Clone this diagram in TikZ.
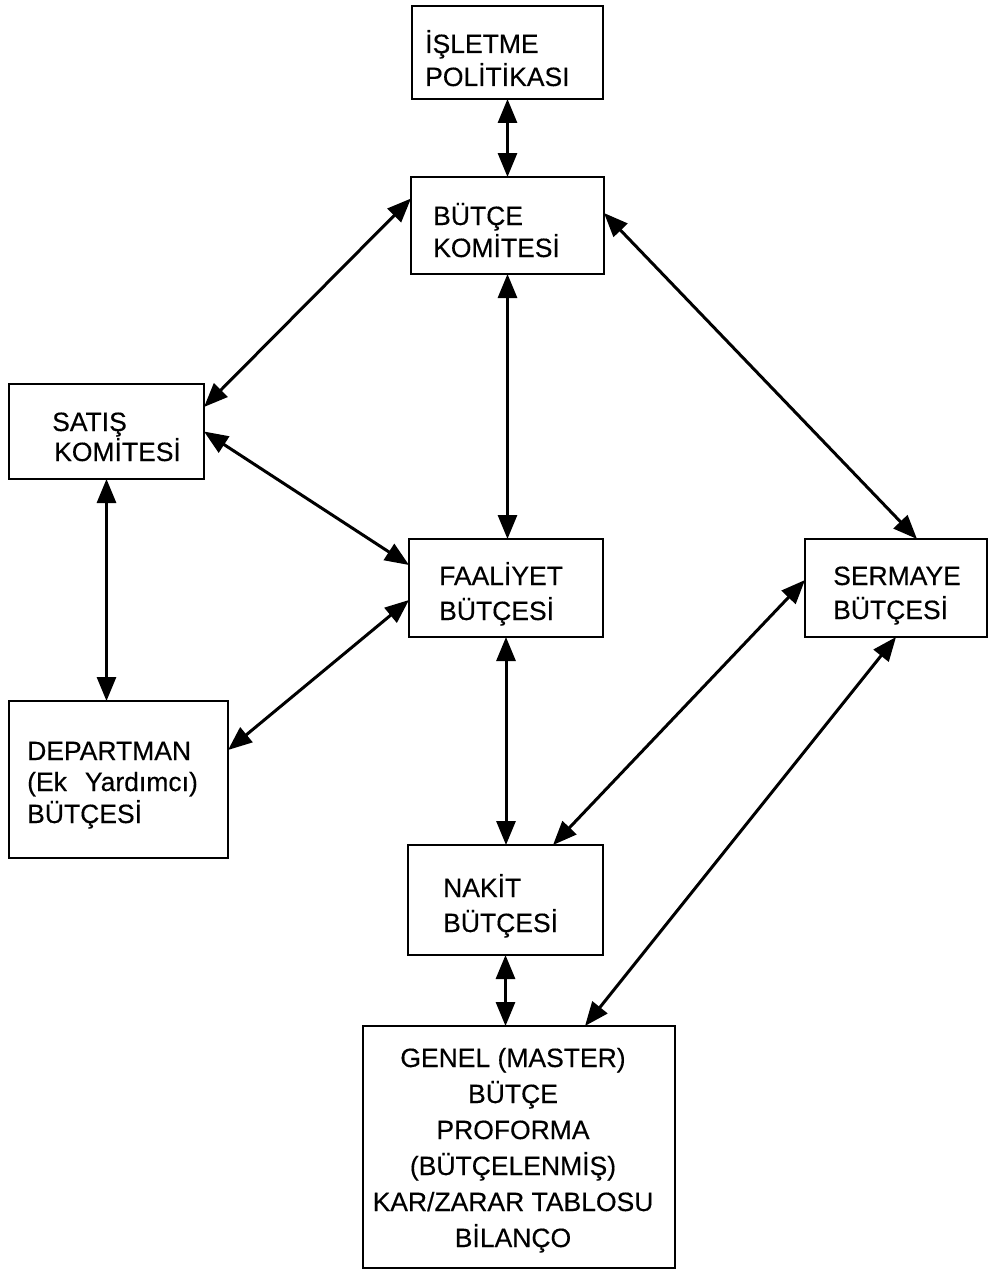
\documentclass[tikz,border=0pt]{standalone}
\usepackage{fontspec}
\setmainfont{Liberation Sans}
\newfontfamily\boxfont{Liberation Sans}[FakeBold=0.35]
\usetikzlibrary{arrows.meta}
\begin{document}
\begin{tikzpicture}[x=1pt,y=-1pt,
  box/.style={draw, line width=2pt, rectangle, inner sep=0pt, outer sep=0pt},
  lbl/.style={anchor=base west, inner sep=0pt, font=\boxfont\fontsize{26.5}{32}\selectfont},
  clbl/.style={anchor=base, inner sep=0pt, font=\boxfont\fontsize{26.5}{32}\selectfont},
  link/.style={line width=3pt, {Triangle[length=24pt,width=19pt]}-{Triangle[length=24pt,width=19pt]}}
]
\useasboundingbox (0,0) rectangle (990,1271);

% boxes
\node[box, minimum width=191pt, minimum height=93pt]  (isl) at (507.5,52.5) {};
\node[box, minimum width=193pt, minimum height=97pt]  (btc) at (507.5,225.5) {};
\node[box, minimum width=195pt, minimum height=95pt]  (sat) at (106.5,431.5) {};
\node[box, minimum width=194pt, minimum height=98pt]  (faa) at (506,588) {};
\node[box, minimum width=182pt, minimum height=98pt]  (ser) at (896,588) {};
\node[box, minimum width=219pt, minimum height=157pt] (dep) at (118.5,779.5) {};
\node[box, minimum width=195pt, minimum height=110pt] (nak) at (505.5,900) {};
\node[box, minimum width=312pt, minimum height=242pt] (gen) at (518.5,1147) {};

% box texts
\node[lbl] (isl1) at (425,53) {İŞLETME};
\node[lbl] (isl2) at (425,86) {POLİTİKASI};
\node[lbl] (btc1) at (433,225) {BÜTÇE};
\node[lbl] (btc2) at (433,257) {KOMİTESİ};
\node[lbl] (sat1) at (52,431) {SATIŞ};
\node[lbl] (sat2) at (54,461) {KOMİTESİ};
\node[lbl] (faa1) at (439,585) {FAALİYET};
\node[lbl] (faa2) at (439,620) {BÜTÇESİ};
\node[lbl] (ser1) at (833,585) {SERMAYE};
\node[lbl] (ser2) at (833,619) {BÜTÇESİ};
\node[lbl] (dep1) at (27,760) {DEPARTMAN};
\node[lbl] (dep2) at (27,791) {(Ek\hspace{18pt}Yardımcı)};
\node[lbl] (dep3) at (27,823) {BÜTÇESİ};
\node[lbl] (nak1) at (443,897) {NAKİT};
\node[lbl] (nak2) at (443,932) {BÜTÇESİ};
\node[clbl] (gen1) at (513,1067) {GENEL (MASTER)};
\node[clbl] (gen2) at (513,1103) {BÜTÇE};
\node[clbl] (gen3) at (513,1139) {PROFORMA};
\node[clbl] (gen4) at (513,1175) {(BÜTÇELENMİŞ)};
\node[clbl] (gen5) at (513,1211) {KAR/ZARAR TABLOSU};
\node[clbl] (gen6) at (513,1247) {BİLANÇO};

% two-way connectors
\draw[link] (isl.south) -- (btc.north);
\draw[link] ([yshift=27pt]btc.west) -- ([yshift=24.5pt]sat.east);
\draw[link] (btc.south) -- (btc.south |- faa.north);
\draw[link] ([yshift=12.5pt]btc.east) -- ([xshift=21pt]ser.north);
\draw[link] (sat.east) -- ([yshift=23pt]faa.west);
\draw[link] (sat.south) -- (sat.south |- dep.north);
\draw[link] ([yshift=-12pt]faa.west) -- ([yshift=29.5pt]dep.east);
\draw[link] (faa.south) -- (faa.south |- nak.north);
\draw[link] ([yshift=8pt]ser.west) -- ([xshift=47.5pt]nak.north);
\draw[link] (ser.south) -- ([xshift=66.5pt]gen.north);
\draw[link] (nak.south) -- (nak.south |- gen.north);
\end{tikzpicture}
\end{document}
